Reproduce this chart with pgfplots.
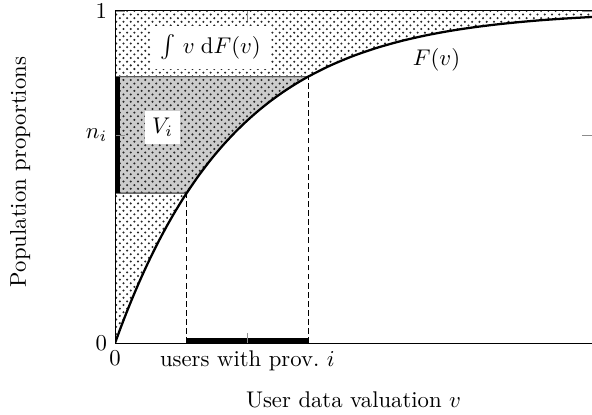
\documentclass[border=0pt]{standalone}
\usepackage{pgfplots}
\pgfplotsset{compat=1.18}
\usetikzlibrary{patterns}
\pgfdeclarepatternformonly{mydots}{\pgfqpoint{-1pt}{-1pt}}{\pgfqpoint{4.2pt}{4.2pt}}{\pgfqpoint{3.2pt}{3.2pt}}{%
  \pgfpathcircle{\pgfqpoint{0pt}{0pt}}{.5pt}%
  \pgfpathcircle{\pgfqpoint{1.6pt}{1.6pt}}{.5pt}%
  \pgfusepath{fill}}
\begin{document}
\begin{tikzpicture}
\useasboundingbox (-50.7pt,-31.3pt) rectangle (210.1pt,151.1pt);
\begin{axis}[
  at={(0,0)}, anchor=south west,
  scale only axis, width=210.1pt, height=146.3pt,
  xmin=0, xmax=1, ymin=0, ymax=1,
  xtick={0,0.2775}, xticklabels={$0$, users with prov.\ $i$},
  ytick={0,0.6267,1}, yticklabels={$0$,$n_i$,$1$},
  major tick style={black!45},
  xlabel={User data valuation $v$},
  ylabel={Population proportions},
  xlabel style={at={(axis description cs:0.5,-0.172)}, anchor=center},
  ylabel style={at={(axis description cs:-0.199,0.515)}, anchor=center},
  axis on top,
]
% dotted region above the curve
\addplot[draw=none, pattern=mydots, pattern color=black!85] coordinates {
(0,0) (0.0125,0.0488) (0.025,0.0952) (0.0375,0.1393) (0.05,0.1813) (0.0625,0.2212)
(0.075,0.2592) (0.0875,0.2953) (0.1,0.3297) (0.1125,0.3624) (0.125,0.3935)
(0.1375,0.4231) (0.15,0.4512) (0.175,0.5034) (0.2,0.5507) (0.225,0.5934)
(0.25,0.6321) (0.275,0.6671) (0.3,0.6988) (0.325,0.7275) (0.35,0.7534)
(0.375,0.7769) (0.405,0.8021) (0.45,0.8347) (0.5,0.8647) (0.55,0.8892)
(0.6,0.9093) (0.65,0.9257) (0.7,0.9392) (0.75,0.9502) (0.8,0.9592)
(0.85,0.9666) (0.9,0.9727) (0.95,0.9776) (1,0.9817) (1,1) (0,1)} -- cycle;
% V_i region
\addplot[fill=black!20, draw=black!65, line width=0.4pt, postaction={pattern=mydots, pattern color=black!85}] coordinates {
(0,0.4512) (0.15,0.4512) (0.175,0.5034) (0.2,0.5507) (0.225,0.5934)
(0.25,0.6321) (0.275,0.6671) (0.3,0.6988) (0.325,0.7275) (0.35,0.7534)
(0.375,0.7769) (0.405,0.8021) (0,0.8021)} -- cycle;
% dashed verticals
\addplot[black, dash pattern=on 2.5pt off 1.5pt, line width=0.55pt] coordinates {(0.15,0) (0.15,0.4512)};
\addplot[black, dash pattern=on 2.5pt off 1.5pt, line width=0.55pt] coordinates {(0.405,0) (0.405,0.8021)};
% curve
\addplot[black, line width=1pt, smooth] coordinates {
(0,0) (0.0125,0.0488) (0.025,0.0952) (0.0375,0.1393) (0.05,0.1813) (0.0625,0.2212)
(0.075,0.2592) (0.0875,0.2953) (0.1,0.3297) (0.1125,0.3624) (0.125,0.3935)
(0.1375,0.4231) (0.15,0.4512) (0.175,0.5034) (0.2,0.5507) (0.225,0.5934)
(0.25,0.6321) (0.275,0.6671) (0.3,0.6988) (0.325,0.7275) (0.35,0.7534)
(0.375,0.7769) (0.405,0.8021) (0.45,0.8347) (0.5,0.8647) (0.55,0.8892)
(0.6,0.9093) (0.65,0.9257) (0.7,0.9392) (0.75,0.9502) (0.8,0.9592)
(0.85,0.9666) (0.9,0.9727) (0.95,0.9776) (1,0.9817)};
% thick bars
\addplot[black, line width=4pt] coordinates {(0,0.4512) (0,0.8021)};
\addplot[black, line width=4pt] coordinates {(0.15,0) (0.405,0)};
% labels
\node[fill=white, inner sep=4pt] at (axis cs:0.200,0.890) {$\int\, v\;\mathrm{d}F(v)$};
\node[fill=white, inner sep=3pt] at (axis cs:0.0996,0.649) {$V_i$};
\node at (axis cs:0.674,0.852) {$F(v)$};
\end{axis}
\end{tikzpicture}
\end{document}
